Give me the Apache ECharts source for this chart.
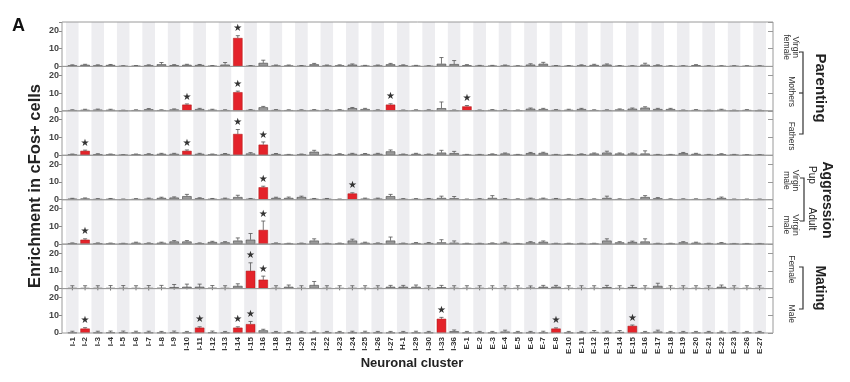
<!DOCTYPE html>
<html><head><meta charset="utf-8">
<script src="https://cdn.jsdelivr.net/npm/echarts@6/dist/echarts.min.js"></script>
<style>html,body{margin:0;padding:0;background:#fff}#c{width:850px;height:382px}</style>
</head><body><div id="c"></div>
<script>
const categories = ['I-1','I-2','I-3','I-4','I-5','I-6','I-7','I-8','I-9','I-10','I-11','I-12','I-13','I-14','I-15','I-16','I-18','I-19','I-20','I-21','I-22','I-23','I-24','I-25','I-26','I-27','H-1','I-29','I-30','I-33','I-36','E-1','E-2','E-3','E-4','E-5','E-6','E-7','E-8','E-10','E-11','E-12','E-13','E-14','E-15','E-16','E-17','E-18','E-19','E-20','E-21','E-22','E-23','E-26','E-27'];
const yTicks = [0, 10, 20];

const virginFemaleValues = [0.6,0.9,0.6,0.8,0.2,0.3,0.6,1.2,0.7,0.9, 0.8,0.3,1.0,16,0.3,2.0,0.5,0.5,0.3,1.2, 0.5,0.6,1.0,0.4,0.5,1.2,0.6,0.4,0.2,1.5, 1.3,0.7,0.4,0.4,0.5,0.2,1.0,1.5,0.3,0.3, 0.6,0.8,1.0,0.3,0.2,1.0,0.6,0.2,0.2,0.7, 0.2,0.2,0.2,0.2,0.2];
const virginFemaleErr = [0.3,0.3,0.3,0.3,0.2,0.2,0.3,1.0,0.3,0.3, 0.3,0.2,1.2,1.3,0.2,1.5,0.3,0.3,0.2,0.5, 0.3,0.3,0.4,0.2,0.3,0.5,0.3,0.2,0.2,3.5, 2.0,0.3,0.2,0.2,0.3,0.2,0.5,0.8,0.2,0.2, 0.3,0.4,0.4,0.2,0.2,0.8,0.3,0.2,0.2,0.3, 0.2,0.2,0.2,0.2,0.2];
const virginFemaleSig = [13];

const mothersValues = [0.4,0.6,0.7,0.6,0.2,0.4,0.9,0.4,0.8,3.5, 1.0,0.6,0.4,10.5,0.5,2.0,0.5,0.4,0.4,0.5, 0.4,0.5,1.5,1.0,0.4,3.5,0.3,0.4,0.4,1.5, 0.3,2.5,0.3,0.5,0.4,0.3,1.2,1.0,0.5,0.6, 1.0,0.4,0.4,0.8,1.2,1.8,1.0,1.0,0.3,0.5, 0.2,0.6,0.2,0.5,0.2];
const mothersErr = [0.2,0.3,0.3,0.3,0.2,0.2,0.4,0.2,0.3,0.4, 0.4,0.3,0.2,0.6,0.2,0.5,0.2,0.2,0.2,0.2, 0.2,0.2,0.4,0.4,0.2,0.5,0.2,0.2,0.2,3.5, 0.2,0.5,0.2,0.2,0.2,0.2,0.4,0.4,0.2,0.3, 0.4,0.2,0.2,0.3,0.4,0.5,0.4,0.4,0.2,0.2, 0.2,0.3,0.2,0.2,0.2];
const mothersSig = [9, 13, 25, 31];

const fathersValues = [0.5,2.5,0.6,0.5,0.2,0.5,0.6,0.8,0.8,2.5, 0.8,0.5,0.7,12,1.0,6.0,0.7,0.3,0.5,2.0, 0.4,0.6,0.8,0.7,0.8,2.2,0.5,0.8,0.5,1.5, 1.2,0.3,0.3,0.6,1.0,0.3,1.2,1.3,0.3,0.3, 0.6,1.0,1.5,1.0,1.0,1.0,0.3,0.3,1.2,0.8, 0.3,0.6,0.3,0.2,0.2];
const fathersErr = [0.2,0.4,0.3,0.2,0.2,0.2,0.3,0.3,0.3,0.5, 0.3,0.2,0.3,2.5,0.5,1.5,0.3,0.2,0.2,0.8, 0.2,0.3,0.3,0.3,0.3,0.8,0.2,0.3,0.2,1.3, 1.0,0.2,0.2,0.2,0.3,0.2,0.4,0.4,0.2,0.2, 0.2,0.3,0.8,0.3,0.3,1.5,0.2,0.2,0.4,0.3, 0.2,0.3,0.2,0.2,0.2];
const fathersSig = [1, 9, 13, 15];

const pupMaleValues = [0.6,0.7,0.4,0.5,0.2,0.4,0.6,1.0,1.2,2.0, 0.8,0.5,0.6,1.5,0.5,7.0,1.0,1.0,1.5,0.5, 0.5,0.2,3.5,0.6,0.6,2.0,0.4,0.4,0.5,1.0, 0.8,0.2,0.4,1.0,0.4,0.3,0.6,0.6,0.5,0.3, 0.4,0.3,1.0,0.3,0.3,1.5,0.8,0.3,0.3,0.3, 0.3,1.0,0.2,0.2,0.2];
const pupMaleErr = [0.2,0.3,0.2,0.2,0.2,0.2,0.3,0.4,0.4,1.0, 0.3,0.2,0.3,1.0,0.2,0.6,0.4,0.5,0.5,0.2, 0.2,0.2,0.4,0.3,0.3,1.0,0.2,0.2,0.2,1.0, 1.0,0.2,0.2,1.3,0.2,0.2,0.3,0.3,0.2,0.2, 0.2,0.2,1.0,0.2,0.2,0.8,0.4,0.2,0.2,0.2, 0.2,0.5,0.2,0.2,0.2];
const pupMaleSig = [15, 22];

const adultMaleValues = [0.5,2.5,0.5,0.4,0.3,0.8,0.5,0.8,1.5,1.5, 0.5,1.2,1.0,2.0,2.5,8.0,0.5,0.3,0.4,2.0, 0.3,0.4,2.0,0.8,0.5,2.0,0.4,0.6,0.6,1.0, 0.8,0.3,0.3,0.5,0.8,0.2,1.0,1.3,0.3,0.3, 0.3,0.3,2.0,1.0,1.2,1.5,0.3,0.3,1.0,0.8, 0.3,0.6,0.2,0.2,0.2];
const adultMaleErr = [0.2,0.5,0.2,0.2,0.2,0.3,0.2,0.3,0.5,0.5, 0.2,0.4,0.4,1.5,3.5,5.0,0.2,0.2,0.2,1.0, 0.2,0.2,0.8,0.3,0.2,2.0,0.2,0.3,0.3,1.5, 1.0,0.2,0.2,0.2,0.3,0.2,0.4,0.5,0.2,0.2, 0.2,0.2,1.0,0.4,0.5,1.5,0.2,0.2,0.4,0.3, 0.2,0.3,0.2,0.2,0.2];
const adultMaleSig = [1, 15];

const femaleValues = [0.3,0.3,0.3,0.3,0.3,0.3,0.3,0.4,0.8,1.0, 1.0,0.4,0.3,1.5,10,5.0,0.3,1.0,0.3,2.0, 0.3,0.3,0.3,0.3,0.3,1.0,1.0,1.0,0.3,0.8, 0.3,0.3,0.3,0.3,0.3,0.3,0.5,1.0,1.0,0.3, 0.3,0.3,0.8,0.3,0.8,0.3,1.5,0.3,0.3,0.3, 0.3,1.0,0.3,0.3,0.3];
const femaleErr = [1.3,1.3,1.3,1.4,1.4,1.3,1.4,1.4,1.5,1.5, 1.5,1.3,1.3,1.2,4.5,2.0,1.3,1.0,1.3,2.0, 1.3,1.3,1.3,1.3,1.3,0.8,0.8,1.0,1.3,1.0, 1.3,1.3,1.3,1.3,1.3,1.3,1.0,0.8,0.8,1.3, 1.3,1.3,1.0,1.3,1.0,1.3,1.5,1.3,1.3,1.3, 1.3,1.0,1.3,1.3,1.3];
const femaleSig = [14, 15];

const maleValues = [0.2,2.5,0.2,0.3,0.3,0.2,0.2,0.2,0.3,0.2, 3.0,0.3,0.2,3.0,5.0,1.5,0.2,0.2,0.2,0.2, 0.2,0.2,0.2,0.2,0.2,0.2,0.2,0.2,0.2,8.0, 1.0,0.2,0.2,0.2,0.8,0.2,0.2,0.2,2.5,0.2, 0.2,0.6,0.2,0.6,4.0,0.2,0.8,0.2,0.2,0.2, 0.2,0.2,0.2,0.2,0.2];
const maleErr = [0.8,0.5,0.8,0.8,0.8,0.8,0.8,0.7,0.8,0.7, 0.5,0.8,0.7,0.5,1.5,0.6,0.7,0.7,0.7,0.8, 0.7,0.7,0.8,0.8,0.7,0.7,0.7,0.8,0.7,0.8, 0.7,0.7,0.7,0.7,0.8,0.7,0.7,0.8,0.4,0.7, 0.7,0.8,0.8,0.8,0.5,0.7,0.8,0.7,0.7,0.7, 0.7,0.8,0.7,0.7,0.7];
const maleSig = [1, 10, 13, 14, 29, 38, 44];

const panelNames = ['Virgin\nfemale','Mothers','Fathers','Virgin\nmale','Virgin\nmale','Female','Male'];

const rows = [
  {values: virginFemaleValues, err: virginFemaleErr, sig: virginFemaleSig, lower:false},
  {values: mothersValues, err: mothersErr, sig: mothersSig, lower:false},
  {values: fathersValues, err: fathersErr, sig: fathersSig, lower:false},
  {values: pupMaleValues, err: pupMaleErr, sig: pupMaleSig, lower:false},
  {values: adultMaleValues, err: adultMaleErr, sig: adultMaleSig, lower:false},
  {values: femaleValues, err: femaleErr, sig: femaleSig, lower:true},
  {values: maleValues, err: maleErr, sig: maleSig, lower:false}
];

const TOP = 22, PH = 44.43, LEFT = 66, W = 700, FX = 62, FW = 711;
const RED = '#e4232a';
const ff = 'Liberation Sans, Arial, sans-serif';

const grids = [], xAxes = [], yAxes = [], series = [], graphics = [];
rows.forEach((r, i) => {
  const last = i === rows.length - 1;
  grids.push({left: LEFT, top: TOP + PH * i, width: W, height: PH});
  xAxes.push({
    type: 'category', gridIndex: i, data: categories,
    axisLine: {show: false}, axisTick: {show: false},
    axisLabel: {show: last, rotate: 90, interval: 0, fontSize: 8, color: '#333', margin: 4, fontWeight: 'bold', fontFamily: ff},
    splitLine: {show: false},
    splitArea: {show: true, interval: 0, areaStyle: {color: ['#ededf0', '#ffffff']}}
  });
  yAxes.push({
    type: 'value', gridIndex: i, min: 0, max: 25, interval: 10, position: 'left', offset: 4,
    axisLine: {show: false},
    axisTick: {show: true, length: 3, lineStyle: {color: '#888'}},
    axisLabel: {fontSize: 9, color: '#444', fontWeight: 'bold', margin: 3, fontFamily: ff,
      formatter: v => yTicks.includes(v) ? String(v) : ''},
    splitLine: {show: false}
  });
  yAxes.push({
    type: 'value', gridIndex: i, min: 0, max: 25, interval: 10, position: 'right', offset: 7,
    axisLine: {show: false},
    axisTick: {show: true, inside: true, length: 5, lineStyle: {color: '#999'}},
    axisLabel: {show: false}, splitLine: {show: false}
  });
  series.push({
    type: 'custom', xAxisIndex: i, yAxisIndex: i * 2, z: 1, clip: false,
    data: r.values.map((v, j) => [j, v, r.err[j], r.sig.includes(j) ? 1 : 0]),
    renderItem: (params, api) => {
      const x = api.value(0), v = api.value(1), e = api.value(2), s = api.value(3);
      const p0 = api.coord([x, v]);
      const p1 = api.coord([x, v + e]);
      const cw = api.size([1, 0])[0] * 0.32;
      const st = {stroke: '#555', lineWidth: 0.8};
      const ch = [
        {type: 'line', shape: {x1: p0[0], y1: p0[1], x2: p1[0], y2: p1[1]}, style: st},
        {type: 'line', shape: {x1: p0[0] - cw / 2, y1: p1[1], x2: p0[0] + cw / 2, y2: p1[1]}, style: st}
      ];
      if (r.lower) {
        const p2 = api.coord([x, v - e]);
        ch.push({type: 'line', shape: {x1: p0[0], y1: p0[1], x2: p2[0], y2: p2[1]}, style: st});
      }
      if (s) {
        ch.push({type: 'text', x: p1[0], y: p1[1] - 7, style: {text: '★', align: 'center', verticalAlign: 'middle', fontSize: 10, fill: '#333', fontFamily: 'DejaVu Sans'}});
      }
      return {type: 'group', children: ch};
    }
  });
  series.push({
    type: 'bar', xAxisIndex: i, yAxisIndex: i * 2, z: 3, barWidth: '74%',
    data: r.values.map((v, j) => ({
      value: v,
      itemStyle: r.sig.includes(j)
        ? {color: RED, borderColor: '#a81818', borderWidth: 0.5}
        : {color: '#9a9a9a', borderColor: '#444', borderWidth: 0.6}
    }))
  });
  graphics.push({type: 'rect', z: 20, shape: {x: FX, y: TOP + PH * i, width: FW, height: PH}, style: {fill: 'none', stroke: '#9a9a9a', lineWidth: 1}});
  graphics.push({type: 'text', z: 20, x: 791, y: TOP + PH * i + PH / 2 + 3, rotation: -Math.PI / 2,
    style: {text: panelNames[i], align: 'center', verticalAlign: 'middle', fontSize: 8.5, lineHeight: 8.5, fill: '#333', fontFamily: ff}});
});

graphics.push(
  {type: 'text', x: 12, y: 17, style: {text: 'A', fontSize: 18, fontWeight: 'bold', fill: '#111', fontFamily: ff}},
  {type: 'text', x: 35, y: 186, rotation: Math.PI / 2, style: {text: 'Enrichment in cFos+ cells', align: 'center', verticalAlign: 'middle', fontSize: 16.5, fontWeight: 'bold', fill: '#222', fontFamily: ff}},
  {type: 'text', x: 412, y: 363, style: {text: 'Neuronal cluster', align: 'center', verticalAlign: 'middle', fontSize: 13, fontWeight: 'bold', fill: '#222', fontFamily: ff}},
  {type: 'text', x: 820, y: 88, rotation: -Math.PI / 2, style: {text: 'Parenting', align: 'center', verticalAlign: 'middle', fontSize: 15, fontWeight: 'bold', fill: '#222', fontFamily: ff}},
  {type: 'text', x: 827, y: 200, rotation: -Math.PI / 2, style: {text: 'Aggression', align: 'center', verticalAlign: 'middle', fontSize: 14, fontWeight: 'bold', fill: '#222', fontFamily: ff}},
  {type: 'text', x: 812, y: 175, rotation: -Math.PI / 2, style: {text: 'Pup', align: 'center', verticalAlign: 'middle', fontSize: 10, fill: '#222', fontFamily: ff}},
  {type: 'text', x: 812, y: 219, rotation: -Math.PI / 2, style: {text: 'Adult', align: 'center', verticalAlign: 'middle', fontSize: 10, fill: '#222', fontFamily: ff}},
  {type: 'text', x: 820, y: 288, rotation: -Math.PI / 2, style: {text: 'Mating', align: 'center', verticalAlign: 'middle', fontSize: 14, fontWeight: 'bold', fill: '#222', fontFamily: ff}},
  {type: 'polyline', shape: {points: [[799, 52], [803, 52], [803, 134], [799, 134]]}, style: {stroke: '#333', lineWidth: 1.2, fill: 'none'}},
  {type: 'line', shape: {x1: 799, y1: 93, x2: 803, y2: 93}, style: {stroke: '#333', lineWidth: 1.2}},
  {type: 'polyline', shape: {points: [[800, 178], [804, 178], [804, 221], [800, 221]]}, style: {stroke: '#333', lineWidth: 1.2, fill: 'none'}},
  {type: 'polyline', shape: {points: [[799, 267], [803, 267], [803, 309], [799, 309]]}, style: {stroke: '#333', lineWidth: 1.2, fill: 'none'}}
);

const chart = echarts.init(document.getElementById('c'), null, {renderer: 'canvas'});
chart.setOption({
  animation: false,
  backgroundColor: '#fff',
  grid: grids, xAxis: xAxes, yAxis: yAxes, series: series, graphic: graphics
});
</script></body></html>
